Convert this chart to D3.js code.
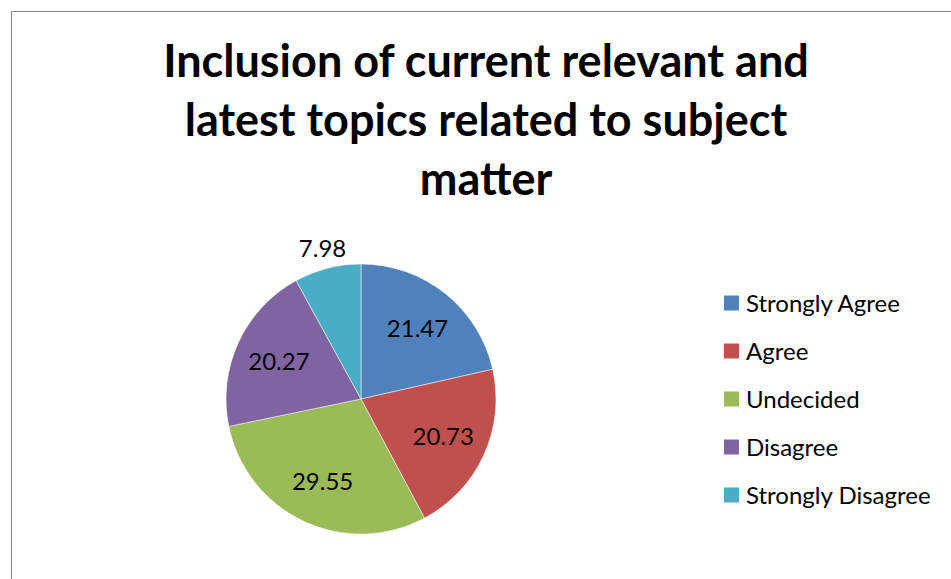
<!DOCTYPE html>
<html>
<head>
<meta charset="utf-8">
<script src="https://cdn.jsdelivr.net/npm/d3@7"></script>
<style>
  body { margin: 0; background: #fff; }
  text { font-family: Lato, "Open Sans", sans-serif; }
</style>
</head>
<body>
<script>
// chart data
var titleLines = ["Inclusion of current relevant and", "latest topics related to subject", "matter"];
var categories = ["Strongly Agree", "Agree", "Undecided", "Disagree", "Strongly Disagree"];
var values = [21.47, 20.73, 29.55, 20.27, 7.98];
var colours = ["#4F81BD", "#C0504D", "#9BBB59", "#8064A2", "#4BACC6"];

var W = 951, H = 579;
var svg = d3.select("body").append("svg")
    .attr("width", W)
    .attr("height", H);

// chart area frame (right + bottom sides fall outside the window)
svg.append("rect")
    .attr("x", 11.5).attr("y", 11.5)
    .attr("width", 1200).attr("height", 1200)
    .style("fill", "#fff")
    .style("stroke", "#868686")
    .style("stroke-width", 1);

// title
svg.append("g").selectAll("text")
    .data(titleLines).enter()
    .append("text")
    .attr("x", 486)
    .attr("y", function(d, i) { return 77 + i * 59; })
    .attr("text-anchor", "middle")
    .style("font-size", "45px")
    .style("font-weight", "bold")
    .style("fill", "#000")
    .text(function(d) { return d; });

// pie
var cx = 361, cy = 399, R = 135;
var pie = d3.pie().sort(null).value(function(d) { return d.value; });
var arc = d3.arc().innerRadius(0).outerRadius(R);
var labelArc = d3.arc().innerRadius(R * 0.67).outerRadius(R * 0.67);
var outerArc = d3.arc().innerRadius(R + 20).outerRadius(R + 20);

var rows = categories.map(function(c, i) { return {name: c, value: values[i]}; });
var colorScale = d3.scaleOrdinal().domain(categories).range(colours);

var g = svg.append("g").attr("transform", "translate(" + cx + "," + cy + ")");
var slices = pie(rows);

g.selectAll("path")
    .data(slices).enter()
    .append("path")
    .attr("d", arc)
    .style("fill", function(d) { return colorScale(d.data.name); })
    .style("stroke", "#fff")
    .style("stroke-width", 0.5);

// small slices get their label outside, like Excel's best fit
g.selectAll("text.val")
    .data(slices).enter()
    .append("text")
    .attr("class", "val")
    .attr("transform", function(d) {
        var p = d.data.value < 10 ? outerArc.centroid(d) : labelArc.centroid(d);
        return "translate(" + p[0] + "," + p[1] + ")";
    })
    .attr("text-anchor", "middle")
    .attr("dy", "0.36em")
    .style("font-size", "24px")
    .style("fill", "#000")
    .text(function(d) { return d3.format(".2f")(d.data.value); });

// legend
var yLeg = d3.scalePoint().domain(categories).range([303, 495]);
var leg = svg.append("g").selectAll("g")
    .data(categories).enter()
    .append("g")
    .attr("transform", function(d) { return "translate(724," + yLeg(d) + ")"; });

leg.append("rect")
    .attr("x", 0).attr("y", -7.5)
    .attr("width", 15).attr("height", 15)
    .style("fill", function(d) { return colorScale(d); });

leg.append("text")
    .attr("x", 22)
    .attr("y", 8.5)
    .style("font-size", "24px")
    .style("fill", "#000")
    .text(function(d) { return d; });
</script>
</body>
</html>
